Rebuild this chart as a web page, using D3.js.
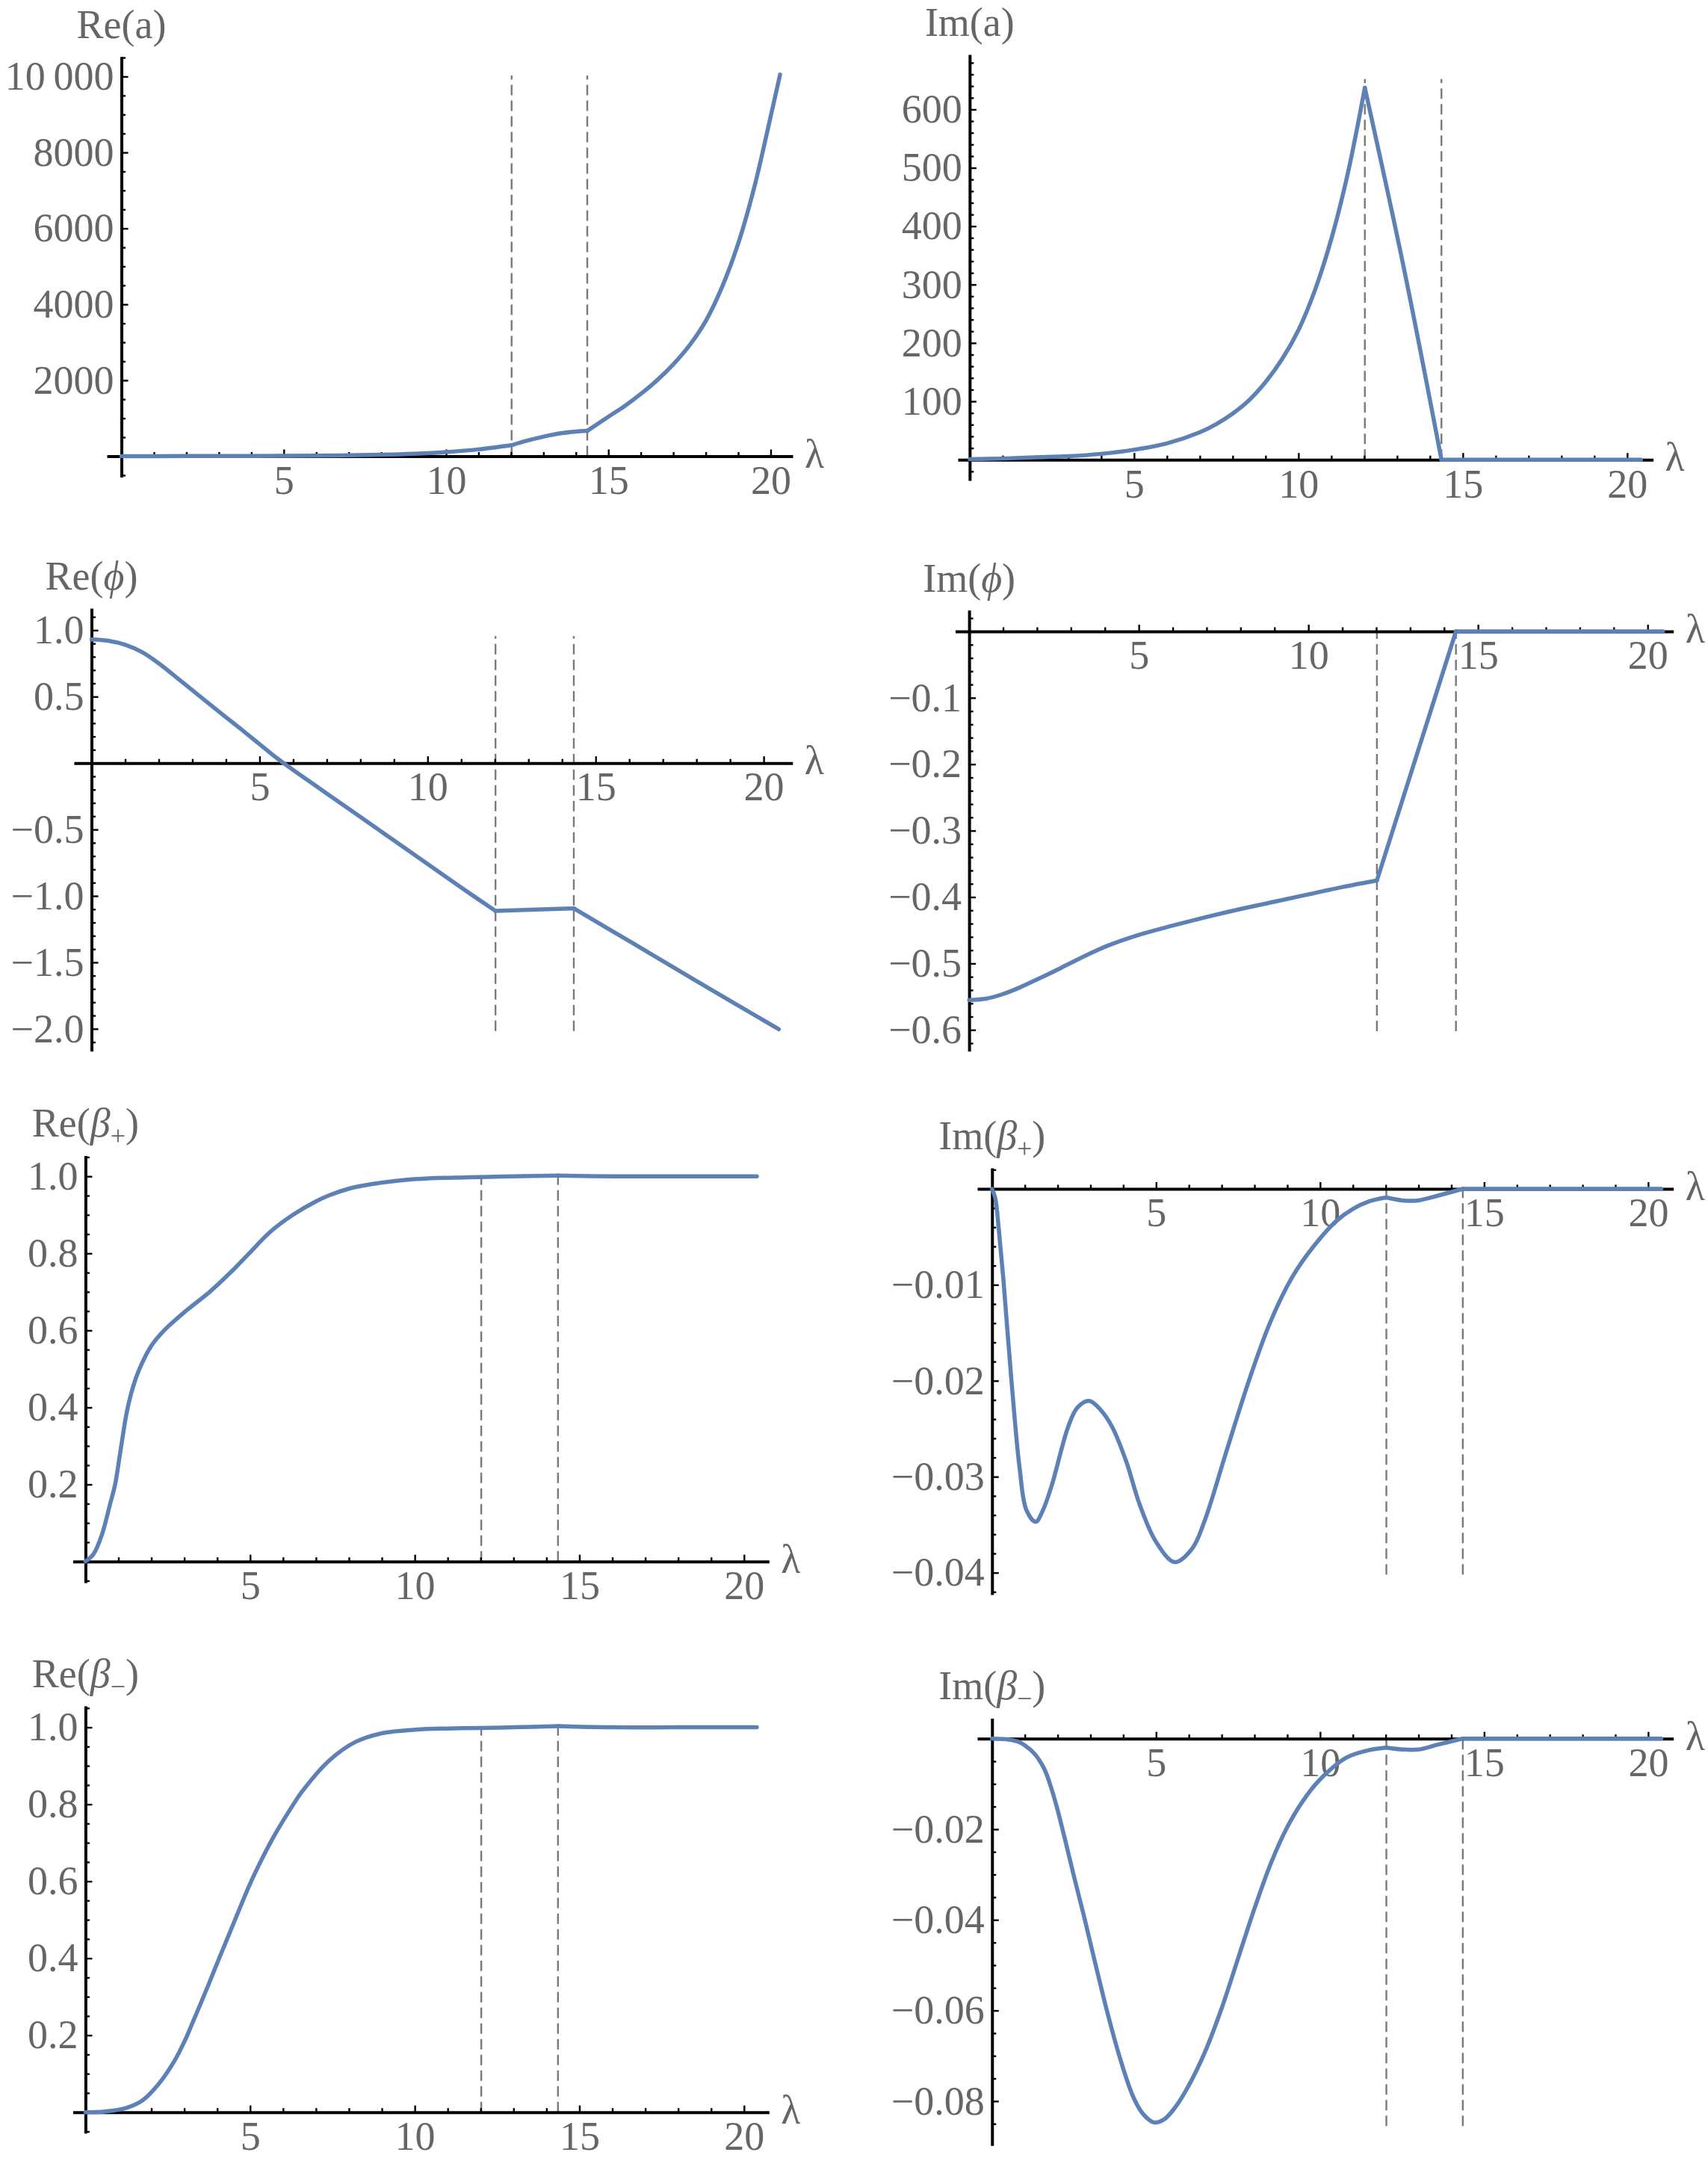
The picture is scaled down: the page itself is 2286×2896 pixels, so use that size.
<!DOCTYPE html>
<html>
<head>
<meta charset="utf-8">
<script src="https://cdn.jsdelivr.net/npm/d3@7"></script>
<style>
  body { margin: 0; background: #fff; }
  text { font-family: "Liberation Serif", "Times New Roman", "DejaVu Serif", serif; }
</style>
</head>
<body>
<svg id="js_chart" width="2286" height="2896"></svg>
<script>
//////////////////////////////////////////////////////////////////////////////
// #region Data
//

// the two transition points (dashed lines)
var dashLam = [12.02, 14.35];

var xTicks  = [5, 10, 15, 20];
var xLabels = ["5", "10", "15", "20"];

// Re(a)
var lamReA = [0, 2, 4, 6, 8, 9, 10, 11, 12.02, 12.5, 13, 13.5, 14, 14.35, 15, 15.5, 16, 16.5, 17, 17.5, 18, 18.5, 19, 19.5, 20, 20.29];
var reA    = [2, 3, 6, 14, 40, 65, 110, 180, 290, 410, 515, 600, 650, 667, 1040, 1320, 1640, 2000, 2420, 2920, 3560, 4450, 5600, 7100, 8950, 10050];
var reATicks  = [2000, 4000, 6000, 8000, 10000];
var reALabels = ["2000", "4000", "6000", "8000", "10\u2009000"];

// Im(a)
var lamImA = [0, 1, 2, 3, 4, 5, 6, 7, 7.5, 8, 8.5, 9, 9.5, 10, 10.5, 11, 11.5, 12.02, 13.2, 14.35, 16, 18, 20.42];
var imA    = [1, 2, 4, 6, 10, 17, 28, 47, 61, 79, 102, 133, 172, 222, 290, 378, 490, 637, 330, 0, 0, 0, 0];
var imATicks  = [100, 200, 300, 400, 500, 600];
var imALabels = ["100", "200", "300", "400", "500", "600"];

// Re(phi)
var lamRePhi = [0, 0.5, 1, 1.5, 2, 2.5, 3, 3.5, 4, 4.5, 5, 5.5, 6, 7, 8, 9, 10, 11, 12.02, 14.35, 16, 18, 20.45];
var rePhi    = [0.93, 0.92, 0.89, 0.835, 0.75, 0.65, 0.548, 0.446, 0.345, 0.245, 0.142, 0.04, -0.052, -0.229, -0.406, -0.583, -0.76, -0.937, -1.113, -1.094, -1.34, -1.64, -2.003];
var rePhiTicks  = [-2, -1.5, -1, -0.5, 0.5, 1];
var rePhiLabels = ["\u22122.0", "\u22121.5", "\u22121.0", "\u22120.5", "0.5", "1.0"];

// Im(phi)
var lamImPhi = [0, 0.5, 1, 1.5, 2, 2.5, 3, 4, 5, 6, 7, 8, 9, 10, 11, 12.02, 14.35, 16, 18, 20.45];
var imPhi    = [-0.555, -0.553, -0.546, -0.536, -0.524, -0.512, -0.499, -0.475, -0.457, -0.443, -0.43, -0.418, -0.407, -0.396, -0.385, -0.375, 0, 0, 0, 0];
var imPhiTicks  = [-0.6, -0.5, -0.4, -0.3, -0.2, -0.1];
var imPhiLabels = ["\u22120.6", "\u22120.5", "\u22120.4", "\u22120.3", "\u22120.2", "\u22120.1"];

// Re(beta+)
var lamReBp = [0, 0.25, 0.5, 0.75, 0.9, 1.05, 1.26, 1.45, 1.64, 2, 2.39, 3, 3.8, 4.4, 4.97, 5.6, 6.3, 7, 7.38, 8, 8.7, 9.5, 10.5, 11.5, 12.02, 13, 14.35, 16, 18, 20.39];
var reBp    = [0, 0.02, 0.07, 0.15, 0.2, 0.28, 0.39, 0.455, 0.5, 0.56, 0.6, 0.647, 0.702, 0.75, 0.8, 0.855, 0.9, 0.935, 0.95, 0.968, 0.98, 0.989, 0.995, 0.997, 0.998, 1.0, 1.002, 1.0, 1.0, 1.0];
var reBTicks  = [0.2, 0.4, 0.6, 0.8, 1.0];
var reBLabels = ["0.2", "0.4", "0.6", "0.8", "1.0"];

// Im(beta+)
var lamImBp = [0, 0.1, 0.2, 0.34, 0.59, 0.84, 1.05, 1.33, 1.55, 1.82, 2.32, 2.6, 2.96, 3.3, 3.66, 4.1, 4.49, 5.0, 5.57, 6.1, 6.48, 7.15, 7.82, 8.48, 9.15, 9.8, 10.48, 11, 11.5, 12.02, 12.5, 13, 13.6, 14.35, 16, 18, 20.4];
var imBp    = [0, -0.001, -0.004, -0.0092, -0.0199, -0.0291, -0.0335, -0.0347, -0.0335, -0.0309, -0.0248, -0.0228, -0.0221, -0.023, -0.0248, -0.0285, -0.0328, -0.0368, -0.0389, -0.0375, -0.0346, -0.0273, -0.0201, -0.0139, -0.0092, -0.006, -0.0034, -0.0021, -0.0013, -0.0009, -0.0012, -0.0012, -0.0007, 0, 0, 0, 0];
var imBpTicks  = [-0.04, -0.03, -0.02, -0.01];
var imBpLabels = ["\u22120.04", "\u22120.03", "\u22120.02", "\u22120.01"];

// Re(beta-)
var lamReBm = [0, 0.6, 1.23, 1.72, 2.22, 2.72, 3.04, 3.22, 3.72, 4.05, 4.22, 4.72, 4.97, 5.22, 5.71, 6.3, 6.55, 7.38, 8.2, 9.03, 10.03, 11, 12.02, 13, 14.35, 16, 18, 20.39];
var reBm    = [0, 0.002, 0.011, 0.03, 0.073, 0.136, 0.19, 0.226, 0.328, 0.398, 0.433, 0.537, 0.588, 0.634, 0.715, 0.798, 0.83, 0.912, 0.962, 0.985, 0.994, 0.997, 0.998, 1.0, 1.003, 1.0, 1.0, 1.0];

// Im(beta-)
var lamImBm = [0, 0.5, 0.8, 1.0, 1.3, 1.6, 1.8, 2.0, 2.13, 2.3, 2.5, 2.83, 3.16, 3.5, 3.9, 4.3, 4.6, 4.94, 5.25, 5.6, 6.0, 6.5, 7.0, 7.5, 8.0, 8.5, 9.0, 9.5, 10.0, 10.8, 11.4, 12.02, 12.5, 13, 13.6, 14.35, 16, 18, 20.4];
var imBm    = [0, -0.0002, -0.0007, -0.0015, -0.0034, -0.0068, -0.0108, -0.0158, -0.0195, -0.0245, -0.0305, -0.04, -0.05, -0.06, -0.0705, -0.079, -0.0828, -0.0847, -0.084, -0.0812, -0.0765, -0.069, -0.0595, -0.0485, -0.0375, -0.0275, -0.0195, -0.0135, -0.009, -0.0042, -0.0027, -0.002, -0.0024, -0.0024, -0.0013, 0, 0, 0, 0];
var imBmTicks  = [-0.08, -0.06, -0.04, -0.02];
var imBmLabels = ["\u22120.08", "\u22120.06", "\u22120.04", "\u22120.02"];

//
// #endregion Data
//////////////////////////////////////////////////////////////////////////////

//////////////////////////////////////////////////////////////////////////////
// #region Drawing Code
//

var blue = "#5e81b5";
var grey = "#666666";
var fontSize = 54;

var svg = d3.select("#js_chart");

// one entry per panel: what to plot and where
var panels = [
  { name: ["Re(", "a", ")"], lam: lamReA, val: reA, yt: reATicks, yl: reALabels, minor: 500, dash: [0, 10030],
    xPx: [143, 1061], xDom: [-0.45, 20.68], yPx: [638.4, 75.8], yDom: [-549, 10524] },
  { name: ["Im(", "a", ")"], lam: lamImA, val: imA, yt: imATicks, yl: imALabels, minor: 20, dash: [0, 652],
    xPx: [1282, 2212.6], xDom: [-0.36, 20.79], yPx: [643, 73], yDom: [-35.6, 694] },
  { name: ["Re(", "\u03d5", ")"], it: true, lam: lamRePhi, val: rePhi, yt: rePhiTicks, yl: rePhiLabels, minor: 0.1, dash: [-2.016, 0.955],
    xPx: [98.9, 1060.8], xDom: [-0.525, 20.86], yPx: [1406.7, 814], yDom: [-2.168, 1.165] },
  { name: ["Im(", "\u03d5", ")"], it: true, lam: lamImPhi, val: imPhi, yt: imPhiTicks, yl: imPhiLabels, minor: 0.02, dash: [-0.602, 0],
    xPx: [1278.5, 2239.7], xDom: [-0.41, 20.76], yPx: [1406.7, 816.5], yDom: [-0.632, 0.032] },
  { name: ["Re(", "\u03b2", ")"], it: true, sub: "+", lam: lamReBp, val: reBp, yt: reBTicks, yl: reBLabels, minor: 0.05, dash: [0, 1.0],
    xPx: [97.4, 1029.3], xDom: [-0.386, 20.76], yPx: [2118, 1546.4], yDom: [-0.055, 1.054] },
  { name: ["Im(", "\u03b2", ")"], it: true, sub: "+", lam: lamImBp, val: imBp, yt: imBpTicks, yl: imBpLabels, minor: 0.002, dash: [-0.0402, 0],
    xPx: [1308, 2239.7], xDom: [-0.45, 20.77], yPx: [2133.9, 1563], yDom: [-0.04228, 0.00218] },
  { name: ["Re(", "\u03b2", ")"], it: true, sub: "\u2212", lam: lamReBm, val: reBm, yt: reBTicks, yl: reBLabels, minor: 0.05, dash: [0, 1.0],
    xPx: [97.4, 1029.3], xDom: [-0.386, 20.76], yPx: [2854.8, 2283], yDom: [-0.0546, 1.0555] },
  { name: ["Im(", "\u03b2", ")"], it: true, sub: "\u2212", lam: lamImBm, val: imBm, yt: imBmTicks, yl: imBmLabels, minor: 0.005, dash: [-0.0855, 0],
    xPx: [1308, 2239.7], xDom: [-0.45, 20.77], yPx: [2871.3, 2299.4], yDom: [-0.0898, 0.0045] }
];

function minorTicks(dom, step, majors)
{
    var out = [];
    var start = Math.ceil(dom[0] / step);
    var stop = Math.floor(dom[1] / step);
    for (var k = start; k <= stop; k++)
    {
        var v = k * step;
        if (Math.abs(v) < step / 10) continue;
        var isMajor = majors.some(function (m) { return Math.abs(m - v) < step / 10; });
        if (!isMajor) out.push(v);
    }
    return out;
}

function styleAxis(sel)
{
    sel.select(".domain").attr("stroke", "#000").attr("stroke-width", 4);
    sel.selectAll(".tick line").attr("stroke", "#000").attr("stroke-width", 2.4);
    sel.selectAll(".tick text")
      .attr("fill", grey)
      .style("font-size", fontSize + "px")
      .style("font-family", "'Liberation Serif', 'Times New Roman', serif");
}

function drawPanel(p)
{
    var g = svg.append("g");
    var x = d3.scaleLinear().domain(p.xDom).range(p.xPx);
    var y = d3.scaleLinear().domain(p.yDom).range(p.yPx);

    // dashed transition lines
    dashLam.forEach(function (l)
    {
        g.append("line")
          .attr("x1", x(l)).attr("x2", x(l))
          .attr("y1", y(p.dash[0])).attr("y2", y(p.dash[1]))
          .attr("stroke", "#7a7a7a")
          .attr("stroke-width", 2.4)
          .attr("stroke-dasharray", "14,7");
    });

    // x axis: majors with labels, then minors
    var xMinor = minorTicks([0, p.xDom[1]], 1, xTicks);
    g.append("g")
      .attr("transform", "translate(0," + y(0) + ")")
      .call(d3.axisBottom(x).tickValues(xTicks)
        .tickFormat(function (d, i) { return xLabels[i]; })
        .tickSizeInner(-9).tickSizeOuter(0).tickPadding(12))
      .call(styleAxis);
    g.append("g")
      .attr("transform", "translate(0," + y(0) + ")")
      .call(d3.axisBottom(x).tickValues(xMinor).tickFormat("").tickSizeInner(-5.5).tickSizeOuter(0))
      .call(styleAxis)
      .select(".domain").remove();

    // y axis
    g.append("g")
      .attr("transform", "translate(" + x(0) + ",0)")
      .call(d3.axisLeft(y).tickValues(p.yt)
        .tickFormat(function (d, i) { return p.yl[i]; })
        .tickSizeInner(-9).tickSizeOuter(0).tickPadding(10))
      .call(styleAxis);
    g.append("g")
      .attr("transform", "translate(" + x(0) + ",0)")
      .call(d3.axisLeft(y).tickValues(minorTicks(p.yDom, p.minor, p.yt)).tickFormat("").tickSizeInner(-5.5).tickSizeOuter(0))
      .call(styleAxis)
      .select(".domain").remove();

    // lambda label at the end of the x axis
    g.append("text")
      .attr("x", p.xPx[1] + 16)
      .attr("y", y(0) + 15)
      .attr("fill", grey)
      .style("font-size", fontSize + "px")
      .text("\u03bb");

    // title above the y axis
    var t = g.append("text")
      .attr("x", x(0))
      .attr("y", p.yPx[1] - 25)
      .attr("text-anchor", "middle")
      .attr("fill", grey)
      .style("font-size", fontSize + "px");
    t.append("tspan").text(p.name[0]);
    t.append("tspan").style("font-style", p.it ? "italic" : "normal").text(p.name[1]);
    if (p.sub)
    {
        t.append("tspan").attr("dy", 11).style("font-size", "36px").text(p.sub);
        t.append("tspan").attr("dy", -11).text(p.name[2]);
    }
    else
    {
        t.append("tspan").text(p.name[2]);
    }

    // curve, split at the kinks so they stay sharp
    var pts = p.lam.map(function (l, i) { return [l, p.val[i]]; });
    var segs = [[]];
    pts.forEach(function (d)
    {
        segs[segs.length - 1].push(d);
        if (dashLam.indexOf(d[0]) >= 0) segs.push([d]);
    });

    var line = d3.line()
      .x(function (d) { return x(d[0]); })
      .y(function (d) { return y(d[1]); })
      .curve(d3.curveCatmullRom.alpha(0.5));

    segs.forEach(function (s)
    {
        if (s.length < 2) return;
        g.append("path")
          .attr("d", line(s))
          .attr("fill", "none")
          .attr("stroke", blue)
          .attr("stroke-width", 5.5)
          .attr("stroke-linecap", "round")
          .attr("stroke-linejoin", "round");
    });
}

svg.append("rect").attr("width", 2286).attr("height", 2896).attr("fill", "#fff");
panels.forEach(drawPanel);

//
// #endregion Drawing Code
//////////////////////////////////////////////////////////////////////////////
</script>
</body>
</html>
